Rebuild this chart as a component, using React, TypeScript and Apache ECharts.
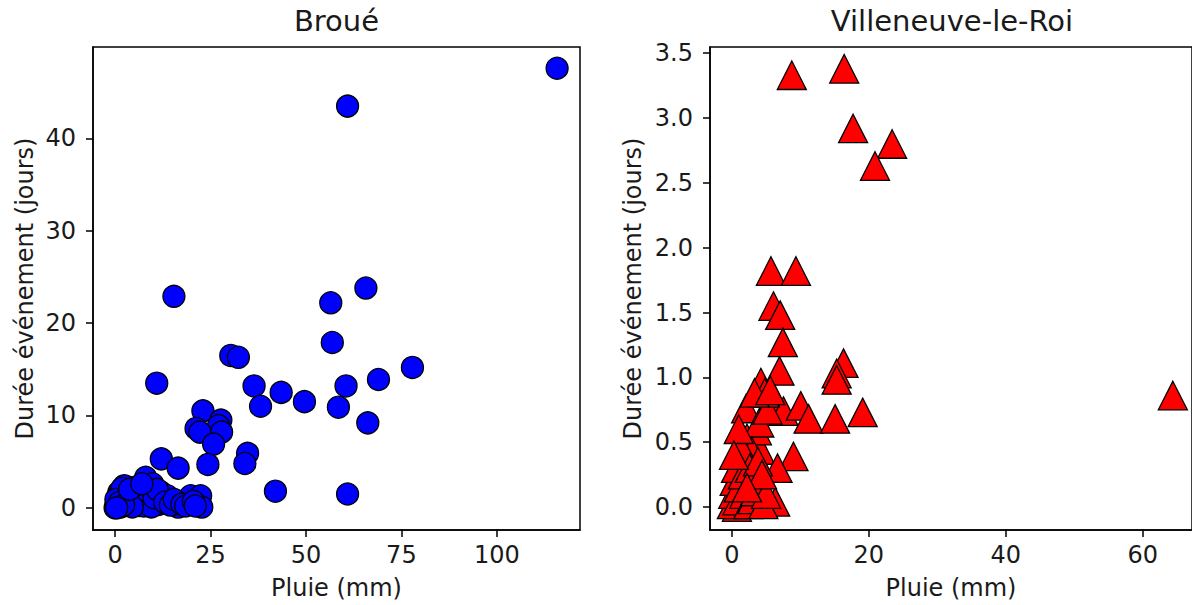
import React, { useEffect, useRef } from "react";
import * as echarts from "echarts";

// Broué: rainfall (mm) and event duration (days)
const brouePluie = [
  115.8, 60.9, 15.4, 56.5, 65.7, 56.9, 30.3, 32.3, 10.9, 36.4, 43.5, 49.6, 38.1, 60.5, 69.0, 77.9,
  58.5, 66.2, 23.0, 27.7, 27.1, 21.2, 22.2, 27.9, 25.8, 34.7, 34.0, 12.1, 16.5, 24.3, 42.0, 60.9,
  8.0, 9.8, 5.0, 2.4, 1.0, 12.0, 13.7, 19.8, 22.4, 3.5, 11.4, 16.5, 22.7, 0.0, 6.3,
  0.3, 0.6, 1.5, 2.0, 2.8, 4.2, 5.5, 6.8, 7.5, 8.8, 9.5, 10.2, 11.0, 13.0, 14.5, 15.5, 17.5,
  18.5, 20.5, 21.0, 0.8, 1.8, 3.2, 4.5, 0.2, 1.2, 2.2, 0.4, 3.8, 7.0,
];
const broueDuree = [
  47.6, 43.5, 22.9, 22.2, 23.8, 17.9, 16.5, 16.3, 13.5, 13.2, 12.5, 11.5, 11.0, 13.2, 13.9, 15.2,
  10.9, 9.2, 10.5, 9.5, 8.9, 8.6, 8.2, 8.2, 6.9, 5.9, 4.8, 5.3, 4.3, 4.7, 1.8, 1.5,
  3.3, 2.6, 2.2, 2.4, 1.7, 1.7, 1.3, 1.3, 1.3, 0.4, 0.36, 0.08, 0.08, 0.0, 0.25,
  0.5, 1.2, 0.1, 0.9, 1.9, 1.0, 0.6, 1.4, 0.2, 0.8, 0.1, 1.1, 2.0, 0.6, 0.3, 0.9, 0.4,
  0.2, 0.7, 0.2, 0.3, 2.1, 1.5, 0.1, 0.9, 0.6, 0.3, 0.0, 2.0, 2.6,
];

// Villeneuve-le-Roi
const villePluie = [
  8.75, 16.4, 17.7, 23.4, 20.9, 5.7, 9.35, 6.07, 7.05, 7.44, 6.95, 16.3, 15.3, 15.3, 4.23, 5.84,
  2.08, 7.53, 10.06, 11.2, 15.07, 19.1, 64.4, 8.99, 2.19, 4.13, 1.2, 6.66, 3.16, 6.32, 0.73, 3.65,
  2.9, 0.0, 0.2, 0.4, 0.6, 0.8, 1.0, 1.4, 1.6, 1.8, 2.4, 2.6, 3.0, 3.4, 3.8, 4.0, 4.6, 5.0, 5.2,
  4.8, 1.0, 3.3, 0.3, 4.4, 5.6, 2.2,
];
const villeDuree = [
  3.33, 3.38, 2.92, 2.8, 2.63, 1.82, 1.82, 1.55, 1.48, 1.27, 1.05, 1.11, 1.03, 0.98, 0.96, 0.83,
  0.76, 0.74, 0.78, 0.68, 0.68, 0.73, 0.86, 0.39, 0.53, 0.44, 0.35, 0.3, 0.2, 0.04, 0.0, 0.59,
  0.43, 0.02, 0.1, 0.2, 0.3, 0.05, 0.15, 0.45, 0.25, 0.1, 0.02, 0.3, 0.06, 0.12, 0.35, 0.65, 0.02,
  0.1, 0.75, 0.88, 0.6, 0.88, 0.4, 0.25, 0.9, 0.15,
];

const broueXTicks = [0, 25, 50, 75, 100];
const broueYTicks = [0, 10, 20, 30, 40];
const villeXTicks = [0, 20, 40, 60];
const villeYTicks = [0, 0.5, 1.0, 1.5, 2.0, 2.5, 3.0, 3.5];

const FONT = "DejaVu Sans";
const TXT = "#1a1a1a";

function axis(gridIndex: number, min: number, max: number, ticks: number[], isY: boolean, name: string, nameGap: number, decimals: number) {
  return {
    type: "value",
    gridIndex,
    min,
    max,
    name,
    nameLocation: "middle",
    nameGap,
    nameTextStyle: { fontSize: 24, fontFamily: FONT, color: TXT },
    axisLine: { show: true, onZero: false, lineStyle: { color: "#000", width: 1.5 } },
    axisTick: { show: true, inside: false, length: 7, customValues: ticks, lineStyle: { color: "#000", width: 1.5 } },
    axisLabel: {
      customValues: ticks,
      fontSize: 24,
      fontFamily: FONT,
      color: TXT,
      margin: isY ? 17 : 13,
      formatter: (v: number) => v.toFixed(decimals),
    },
    splitLine: { show: false },
  };
}

export default function App() {
  const ref = useRef<HTMLDivElement>(null);
  useEffect(() => {
    if (!ref.current) return;
    const chart = echarts.init(ref.current, null, { renderer: "svg" });
    const broueData = brouePluie.map((x, i) => [x, broueDuree[i]]);
    const villeData = villePluie.map((x, i) => [x, villeDuree[i]]);
    chart.setOption({
      animation: false,
      backgroundColor: "#fff",
      title: [
        { text: "Broué", left: 336.5, top: 6, textAlign: "center", padding: 0, textStyle: { fontSize: 29, fontWeight: "normal", fontFamily: FONT, color: TXT } },
        { text: "Villeneuve-le-Roi", left: 952, top: 6, textAlign: "center", padding: 0, textStyle: { fontSize: 29, fontWeight: "normal", fontFamily: FONT, color: TXT } },
      ],
      grid: [
        { left: 93, top: 47, width: 487, height: 485, show: true, borderColor: "#000", borderWidth: 1.5, backgroundColor: "transparent", containLabel: false },
        { left: 710, top: 47, width: 483, height: 485, show: true, borderColor: "#000", borderWidth: 1.5, backgroundColor: "transparent", containLabel: false },
      ],
      xAxis: [
        axis(0, -5.8, 121.8, broueXTicks, false, "Pluie (mm)", 46, 0),
        axis(1, -3.2, 67.2, villeXTicks, false, "Pluie (mm)", 46, 0),
      ],
      yAxis: [
        axis(0, -2.4, 49.9, broueYTicks, true, "Durée événement (jours)", 56, 0),
        axis(1, -0.177, 3.548, villeYTicks, true, "Durée événement (jours)", 65, 1),
      ],
      series: [
        {
          type: "scatter",
          xAxisIndex: 0,
          yAxisIndex: 0,
          symbol: "circle",
          symbolSize: 22,
          data: broueData,
          itemStyle: { color: "#0000ff", borderColor: "#000", borderWidth: 1.3, opacity: 1 },
        },
        {
          type: "scatter",
          xAxisIndex: 1,
          yAxisIndex: 1,
          symbol: "triangle",
          symbolSize: [29, 28.5],
          data: villeData,
          itemStyle: { color: "#ff0000", borderColor: "#000", borderWidth: 1.3, opacity: 1 },
        },
      ],
    });
    return () => chart.dispose();
  }, []);
  return <div ref={ref} style={{ position: "absolute", left: 0, top: 0, width: 1192, height: 605 }} />;
}
